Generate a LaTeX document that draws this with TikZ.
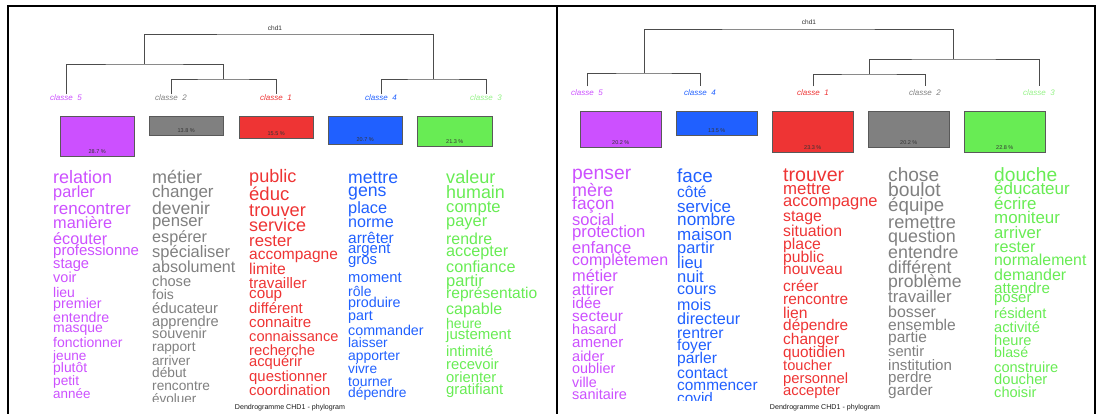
\documentclass[tikz,border=0pt]{standalone}
\usepackage{fontspec}
\setmainfont{Liberation Sans}
\definecolor{cl1}{RGB}{238,52,52}
\definecolor{cl2}{RGB}{128,128,128}
\definecolor{cl3}{RGB}{104,236,84}
\definecolor{cl4}{RGB}{32,96,255}
\definecolor{cl5}{RGB}{204,80,255}
% one column of the word cloud: name, x, clip x, clip y, colour, y/size/word
\newcommand{\cloudcol}[6]{%
\begin{scope}
\clip (#2-3,160) rectangle (#3,#4);
\foreach \y/\s/\w [count=\i] in {#6}
  \node[anchor=base west,inner sep=0,text=#5,font=\fontsize{\s}{\s}\selectfont] (#1\i) at (#2,{\y+0.33*\s}) {\w};
\end{scope}}
\begin{document}
\begin{tikzpicture}[x=1pt,y=-1pt,
  dend/.style={draw=black!70,line width=.8pt},
  cls/.style={font=\fontsize{8}{8}\selectfont\itshape,inner sep=0pt},
  pbox/.style={draw=black!65,line width=.5pt,anchor=north west,inner sep=0pt},
  pct/.style={font=\fontsize{5.5}{5.5}\selectfont,text=black!80,inner sep=0pt},
  ttl/.style={font=\fontsize{6.5}{6.5}\selectfont,text=black!80},
  captxt/.style={font=\fontsize{7.1}{7.1}\selectfont,text=black!90}]
\useasboundingbox (0,0) rectangle (1096,414);
\draw[line width=1.5pt] (8,414) -- (8,6) -- (1096,6);
\draw[line width=1.5pt] (557,6) -- (557,414);
\draw[line width=1.5pt] (1095,6) -- (1095,414);

%% left panel
\node[ttl] (lchd) at (275,28) {chd1};
\coordinate (lroot) at (288,34);
\coordinate (lja) at (144,64);
\coordinate (ljb) at (223,79);
\coordinate (ljc) at (433,79);
\node[cls,text=cl5] (l5) at (66,97.5) {classe\ \ 5};
\node[cls,text=cl2] (l2) at (171,97.5) {classe\ \ 2};
\node[cls,text=cl1] (l1) at (276,97.5) {classe\ \ 1};
\node[cls,text=cl4] (l4) at (381,97.5) {classe\ \ 4};
\node[cls,text=cl3!70] (l3) at (486,97.5) {classe\ \ 3};
\draw[dend] (l5.north) |- (lja) -| (ljb);
\draw[dend] (l2.north) |- (ljb) -| (l1.north);
\draw[dend] (lja) |- (lroot) -| (ljc);
\draw[dend] (l4.north) |- (ljc) -| (l3.north);
\node[pbox,fill=cl5,minimum width=74pt,minimum height=40pt] (lb5) at (60,116) {};
\node[pbox,fill=cl2,minimum width=74pt,minimum height=19pt] (lb2) at (149,116) {};
\node[pbox,fill=cl1,minimum width=74pt,minimum height=22pt] (lb1) at (239,116) {};
\node[pbox,fill=cl4,minimum width=74pt,minimum height=28pt] (lb4) at (328,116) {};
\node[pbox,fill=cl3,minimum width=75pt,minimum height=30pt] (lb3) at (417,116) {};
\node[pct] (lp5) at ([yshift=4.5pt]lb5.south) {28.7 \%};
\node[pct] (lp2) at ([yshift=4.5pt]lb2.south) {13.8 \%};
\node[pct] (lp1) at ([yshift=4.5pt]lb1.south) {15.5 \%};
\node[pct] (lp4) at ([yshift=4.5pt]lb4.south) {20.7 \%};
\node[pct] (lp3) at ([yshift=4.5pt]lb3.south) {21.3 \%};
\cloudcol{lw5-}{53}{141}{401.5}{cl5}{178/18/relation,192/16.3/parler,209/17/rencontrer,223/16.3/manière,239/16.2/écouter,
  251/15/professionne,264/14.7/stage,278/14.5/voir,293/14/lieu,304/14.3/premier,318/14.2/entendre,328/14/masque,
  343/14/fonctionner,356/13.6/jeune,368/13.9/plutôt,381/13.7/petit,394/13.4/année}
\cloudcol{lw2-}{152}{237}{401.5}{cl2}{178/18/métier,192/17/changer,209/17.6/devenir,221/16.7/penser,237/16.2/espérer,
  252/16.5/spécialiser,267/16.1/absolument,282/14.6/chose,295/14/fois,309/14.8/éducateur,322/14.6/apprendre,
  334/14.4/souvenir,347/13.7/rapport,361/13.5/arriver,373/13.7/début,386/13.7/rencontre,399/13.5/évoluer}
\cloudcol{lw1-}{249}{341}{401.5}{cl1}{177/18.1/public,194/18.5/éduc,210/18.2/trouver,226/18/service,241/16.7/rester,
  254/15.5/accompagne,269/15.7/limite,283/15.2/travailler,293/15.2/coup,309/14.9/différent,323/15.1/connaitre,
  337/14.6/connaissance,351/14.8/recherche,362/14.7/acquérir,377/14.9/questionner,391/14.9/coordination}
\cloudcol{lw4-}{348}{440}{401.5}{cl4}{178/17.6/mettre,191/17.7/gens,208/16.3/place,222/16.1/norme,238/15.5/arrêter,
  249/14.9/argent,260/14.9/gros,278/14.8/moment,292/14/rôle,303/14.3/produire,316/14.3/part,331/14.3/commander,
  343/13.7/laisser,356/13.9/apporter,369/13.7/vivre,382/13.9/tourner,393/13.8/dépendre}
\cloudcol{lw3-}{446}{537}{401.5}{cl3}{178/18.1/valeur,193/17.9/humain,207/16.6/compte,221/16.4/payer,239/15.9/rendre,
  251/16.2/accepter,267/16.2/confiance,281/16.5/partir,293/15.6/représentatio,309/16/capable,324/14/heure,
  335/15/justement,352/14.8/intimité,365/14.8/recevoir,378/14.8/orienter,390/14.9/gratifiant}
\node[captxt] (lcap) at (290,408) {Dendrogramme CHD1 - phylogram};

%% right panel
\node[ttl] (rchd) at (809,22) {chd1};
\coordinate (rroot) at (798,29);
\coordinate (rja) at (644,73);
\coordinate (rjb) at (953,59);
\coordinate (rjc) at (869,74);
\node[cls,text=cl5,inner sep=3.5pt] (r5) at (587,93) {classe\ \ 5};
\node[cls,text=cl4,inner sep=3.5pt] (r4) at (700,93) {classe\ \ 4};
\node[cls,text=cl1,inner sep=3.5pt] (r1) at (813,93) {classe\ \ 1};
\node[cls,text=cl2,inner sep=3.5pt] (r2) at (925,93) {classe\ \ 2};
\node[cls,text=cl3!70,inner sep=3.5pt] (r3) at (1039,93) {classe\ \ 3};
\draw[dend] (r5.north) |- (rja) -| (r4.north);
\draw[dend] (rja) |- (rroot) -| (rjb);
\draw[dend] (rjc) |- (rjb) -| (r3.north);
\draw[dend] (r1.north) |- (rjc) -| (r2.north);
\node[pbox,fill=cl5,minimum width=81pt,minimum height=36pt] (rb5) at (580,111) {};
\node[pbox,fill=cl4,minimum width=81pt,minimum height=24pt] (rb4) at (676,111) {};
\node[pbox,fill=cl1,minimum width=81pt,minimum height=41pt] (rb1) at (772,111) {};
\node[pbox,fill=cl2,minimum width=81pt,minimum height=36pt] (rb2) at (868,111) {};
\node[pbox,fill=cl3,minimum width=81pt,minimum height=41pt] (rb3) at (964,111) {};
\node[pct] (rp5) at ([yshift=4.5pt]rb5.south) {20.2 \%};
\node[pct] (rp4) at ([yshift=4.5pt]rb4.south) {13.5 \%};
\node[pct] (rp1) at ([yshift=4.5pt]rb1.south) {23.3 \%};
\node[pct] (rp2) at ([yshift=4.5pt]rb2.south) {20.2 \%};
\node[pct] (rp3) at ([yshift=4.5pt]rb3.south) {22.8 \%};
\cloudcol{rw5-}{572}{668}{400.5}{cl5}{173/19.3/penser,191/17.9/mère,204/17.3/façon,220/16.5/social,232/16.7/protection,
  248/16.6/enfance,260/16/complètemen,276/16.4/métier,290/16.3/attirer,303/15.3/idée,316/15.5/secteur,330/14.5/hasard,
  343/15.1/amener,357/14.5/aider,369/14.4/oublier,383/14.3/ville,395/14.5/sanitaire}
\cloudcol{rw4-}{677}{776}{400.5}{cl4}{176/18.9/face,192/15.5/côté,207/17/service,220/17.2/nombre,235/17/maison,
  248/16.4/partir,263/16.5/lieu,277/16.5/nuit,289/16/cours,305/16.1/mois,319/16.2/directeur,333/15.8/rentrer,
  345/15.6/foyer,358/15.6/parler,373/15.7/contact,385/15.4/commencer,398/15.3/covid}
\cloudcol{rw1-}{783}{879}{400.5}{cl1}{175/19.6/trouver,189/16.8/mettre,201/16.5/accompagne,216/15.8/stage,231/15.8/situation,
  244/15.8/place,257/15.7/public,269/15.5/nouveau,286/15.5/créer,299/15.4/rencontre,313/15.7/lien,325/15.4/dépendre,
  339/15.5/changer,352/15.3/quotidien,366/14.6/toucher,379/14.8/personnel,391/14.8/accepter}
\cloudcol{rw2-}{888}{985}{400.5}{cl2}{175/19.1/chose,190/19.3/boulot,205/18.7/équipe,222/18.2/remettre,237/17.9/question,
  253/17.8/entendre,268/17.6/différent,282/17.6/problème,297/16.8/travailler,312/15.9/bosser,325/15.6/ensemble,
  337/15.5/partie,352/14.7/sentir,366/15.1/institution,378/15.1/perdre,390/15.4/garder}
\cloudcol{rw3-}{994}{1092}{400.5}{cl3}{175/19.2/douche,189/17/éducateur,204/16.9/écrire,218/16.9/moniteur,233/16.7/arriver,
  247/16.2/rester,260/15.8/normalement,275/16/demander,288/15.2/attendre,298/14.9/poser,314/14.7/résident,
  328/14.7/activité,341/14.6/heure,353/14.2/blasé,368/14.6/construire,380/14.7/doucher,393/14.6/choisir}
\node[captxt] (rcap) at (825,408) {Dendrogramme CHD1 - phylogram};
\end{tikzpicture}
\end{document}
